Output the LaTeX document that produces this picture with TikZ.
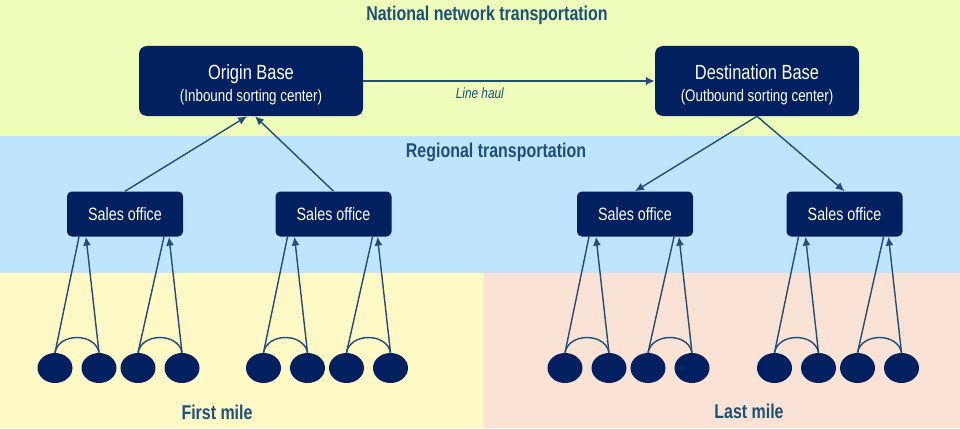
\documentclass[tikz,border=0pt]{standalone}
\usepackage{fontspec}
\setmainfont{Liberation Sans}[FakeStretch=0.8]
\usetikzlibrary{arrows.meta}
\usetikzlibrary{shapes.geometric}
\usepackage{xcolor}
\definecolor{navybox}{HTML}{002060}
\definecolor{titleblue}{HTML}{1B5177}
\definecolor{linkblue}{HTML}{1F4E79}
\definecolor{natband}{HTML}{EEFDBA}
\definecolor{regband}{HTML}{BFE4FD}
\definecolor{firstband}{HTML}{FFF9C6}
\definecolor{lastband}{HTML}{FAE3D4}
\newcommand{\subline}{\fontsize{11.9}{15.6}\selectfont}

\begin{document}
\begin{tikzpicture}[
    base/.style={fill=navybox, text=white, rounded corners=0.2cm, minimum width=5.6cm, minimum height=1.75cm, align=center, text height=31.5pt, font=\fontsize{14.6}{15.6}\selectfont},
    office/.style={fill=navybox, text=white, rounded corners=0.12cm, minimum width=2.9cm, minimum height=1.125cm, font=\fontsize{12.7}{14}\selectfont},
    stop/.style={ellipse, fill=navybox, minimum width=0.875cm, minimum height=0.75cm, inner sep=0pt},
    zone/.style={text=titleblue, font=\bfseries\fontsize{14.2}{16}\selectfont},
    link/.style={draw=linkblue, line width=1pt},
    flow/.style={link, -{Latex[length=2.2mm,width=2mm]}}
]
                \useasboundingbox (0,0) rectangle (24,10.7);

                % bands
                \fill[natband] (0,7.3) rectangle (24,10.7);
                \fill[regband] (0,3.875) rectangle (24,7.3);
                \fill[firstband] (0,0) rectangle (12.1,3.875);
                \fill[lastband] (12.1,0) rectangle (24,3.875);

                \node[zone] (natl) at (12.175,10.325) {National network transportation};
                \node[zone] (regl) at (12.4,6.9) {Regional transportation};
                \node[zone] (first) at (5.425,0.4) {First mile};
                \node[zone] (last) at (18.725,0.425) {Last mile};

                \node[base] (origin) at (6.275,8.675) {Origin Base\\{\subline (Inbound sorting center)}};
                \node[base, minimum width=5.1cm] (dest) at (18.925,8.675) {Destination Base\\{\subline (Outbound sorting center)}};

                \node[office] (so1) at (3.125,5.35) {Sales office};
                \node[office] (so2) at (8.3375,5.35) {Sales office};
                \node[office] (so3) at (15.875,5.35) {Sales office};
                \node[office] (so4) at (21.1125,5.35) {Sales office};

                \draw[flow] (origin.east) -- node[pos=0.4, below=1pt, text=titleblue, font=\itshape\fontsize{10.5}{12}\selectfont] {Line haul} (dest.west);
                \draw[flow] (so1.north) -- ([xshift=-0.1cm]origin.south);
                \draw[flow] (so2.north) -- ([xshift=0.1cm]origin.south);
                \draw[flow] (dest.south) -- (so3.north);
                \draw[flow] (dest.south) -- (so4.north);

                % pickup / delivery points
                \foreach \o in {1,...,4} {
                    \foreach \s/\dx in {1/-1.75, 2/-0.65, 3/0.325, 4/1.425}
                        \node[stop] (s\o\s) at ([xshift=\dx cm, yshift=-3.85cm]so\o.center) {};
                    \draw[link] (s\o1.north) to[out=80, in=100, looseness=1.2] (s\o2.north);
                    \draw[link] (s\o3.north) to[out=80, in=100, looseness=1.2] (s\o4.north);
                    \draw[link] (s\o1.north) -- ([xshift=-1.15cm]so\o.south);
                    \draw[flow] (s\o2.north) -- ([xshift=-0.975cm]so\o.south);
                    \draw[link] (s\o3.north) -- ([xshift=0.975cm]so\o.south);
                    \draw[flow] (s\o4.north) -- ([xshift=1.1cm]so\o.south);
                }
            \end{tikzpicture}
\end{document}
